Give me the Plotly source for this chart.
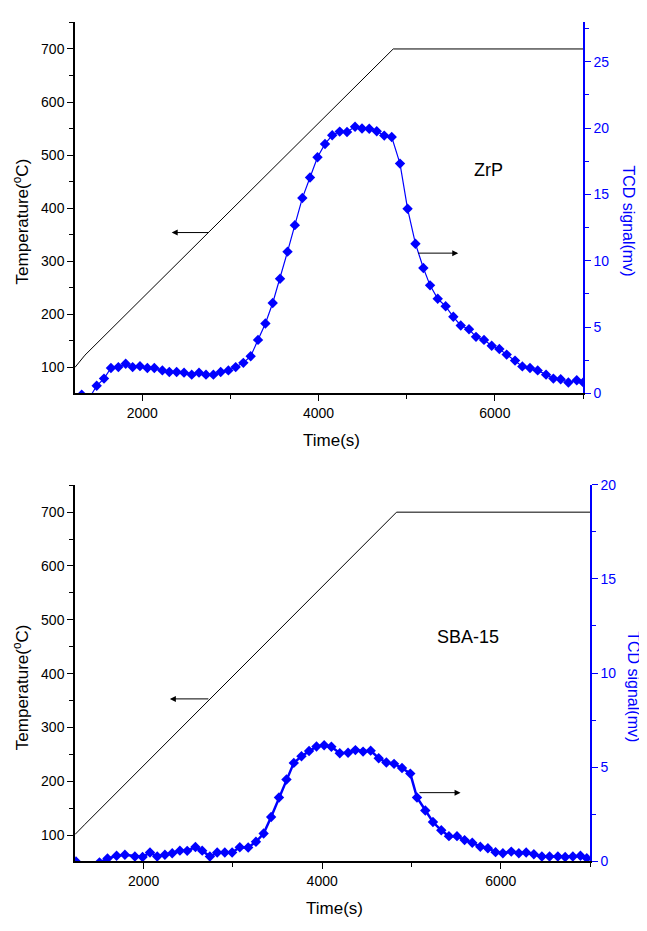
import plotly.graph_objects as go

# page body has an 8px margin: the figure is drawn at offset (8, 8)
OFF = 8
W, H = 647 - OFF, 931 - OFF

# ---------------- data: ZrP panel ----------------
zrp_temp_time = [1237, 1280, 1350, 4847, 7000]
zrp_temp = [100, 108, 123, 700, 700]

zrp_time = [1313, 1396, 1483, 1566, 1645, 1729, 1812, 1891, 1974, 2058, 2137, 2228,
            2307, 2390, 2474, 2561, 2644, 2723, 2807, 2890, 2977, 3060, 3147, 3230,
            3313, 3397, 3480, 3563, 3648, 3731, 3816, 3903, 3988, 4073, 4155, 4240,
            4323, 4414, 4493, 4575, 4660, 4745, 4830, 4924, 5010, 5099, 5189, 5265,
            5352, 5442, 5529, 5613, 5707, 5786, 5877, 5964, 6051, 6134, 6229, 6312,
            6399, 6486, 6581, 6664, 6747, 6834, 6929, 7004]
zrp_tcd = [-0.1, -0.4, 0.57, 1.11, 1.91, 1.98, 2.23, 1.98, 2.05, 1.91, 1.91, 1.73,
           1.61, 1.61, 1.56, 1.41, 1.56, 1.41, 1.41, 1.61, 1.73, 1.98, 2.30, 2.80,
           4.03, 5.27, 6.81, 8.64, 10.68, 12.68, 14.72, 16.27, 17.80, 18.80, 19.45, 19.73,
           19.70, 20.10, 19.97, 19.95, 19.76, 19.43, 19.32, 17.32, 13.91, 11.28, 9.45, 8.14,
           7.13, 6.56, 5.77, 5.12, 4.83, 4.26, 4.03, 3.59, 3.34, 2.92, 2.47, 2.03,
           1.91, 1.73, 1.41, 1.11, 1.06, 0.82, 0.99, 0.82]

# ---------------- data: SBA-15 panel ----------------
sba_temp_time = [1231, 1280, 1343, 4833, 7000]
sba_temp = [101, 110, 120, 700, 700]

sba_time = [1242, 1330, 1418, 1505, 1595, 1697, 1790, 1902, 1988, 2071, 2152, 2238,
            2320, 2406, 2488, 2580, 2656, 2742, 2824, 2909, 2991, 3077, 3171, 3258,
            3344, 3428, 3516, 3600, 3682, 3768, 3853, 3936, 4022, 4103, 4197, 4290,
            4372, 4458, 4543, 4633, 4719, 4805, 4894, 4987, 5062, 5155, 5241, 5334,
            5420, 5510, 5595, 5681, 5771, 5856, 5942, 6024, 6118, 6203, 6285, 6371,
            6461, 6547, 6640, 6722, 6808, 6893, 6964]
sba_tcd = [0.0, -0.4, -0.3, -0.05, 0.15, 0.30, 0.35, 0.26, 0.23, 0.47, 0.26, 0.35,
           0.43, 0.57, 0.56, 0.76, 0.57, 0.26, 0.47, 0.47, 0.47, 0.75, 0.74, 1.04,
           1.48, 2.36, 3.39, 4.35, 5.23, 5.58, 5.86, 6.10, 6.17, 6.09, 5.74, 5.77,
           5.91, 5.83, 5.88, 5.48, 5.25, 5.18, 4.96, 4.66, 3.39, 2.70, 2.09, 1.65,
           1.34, 1.34, 1.13, 0.99, 0.78, 0.70, 0.49, 0.43, 0.52, 0.43, 0.47, 0.38,
           0.26, 0.26, 0.26, 0.23, 0.26, 0.30, 0.17]

x_ticks = [2000, 4000, 6000]
temp_ticks = [100, 200, 300, 400, 500, 600, 700]
zrp_tcd_ticks = [0, 5, 10, 15, 20, 25]
sba_tcd_ticks = [0, 5, 10, 15, 20]

BLUE = "#0000FF"
FONT = "Arial, Liberation Sans, sans-serif"


def fx(p):
    return (p - OFF) / W


def fy(p):
    return 1 - (p - OFF) / H


fig = go.Figure()

# temperature lines
fig.add_trace(go.Scatter(x=zrp_temp_time, y=zrp_temp, mode="lines",
                         line=dict(color="black", width=1), xaxis="x", yaxis="y",
                         showlegend=False))
fig.add_trace(go.Scatter(x=sba_temp_time, y=sba_temp, mode="lines",
                         line=dict(color="black", width=1), xaxis="x2", yaxis="y2",
                         showlegend=False))
# TCD signals
fig.add_trace(go.Scatter(x=zrp_time, y=zrp_tcd, mode="lines+markers",
                         line=dict(color=BLUE, width=1.2),
                         marker=dict(symbol="diamond", size=8, color=BLUE),
                         xaxis="x", yaxis="y3", showlegend=False))
fig.add_trace(go.Scatter(x=sba_time, y=sba_tcd, mode="lines+markers",
                         line=dict(color=BLUE, width=2.5),
                         marker=dict(symbol="diamond", size=8, color=BLUE),
                         xaxis="x2", yaxis="y4", showlegend=False))

tick_font = dict(family=FONT, size=14, color="black")
blue_tick_font = dict(family=FONT, size=14, color=BLUE)

top_x = [fx(75), fx(583)]
top_y = [fy(392), fy(14)]
bot_x = [fx(75), fx(590)]
bot_y = [fy(868.3), fy(485)]

common_x = dict(showline=True, linecolor="black", linewidth=1.5, ticks="outside",
                ticklen=6, tickwidth=1.2, tickcolor="black", tickvals=x_ticks,
                tickfont=tick_font, showgrid=False, zeroline=False,
                minor=dict(ticks="outside", ticklen=4, tickwidth=1.2,
                           tickvals=[1000, 3000, 5000, 7000], tickcolor="black"))
top_mirror = dict(showline=True, linecolor="black", linewidth=1.5, ticks="inside",
                  ticklen=6, tickwidth=1.2, tickcolor="black", tickvals=x_ticks,
                  showticklabels=False, showgrid=False, zeroline=False, side="top",
                  minor=dict(ticks="inside", ticklen=4, tickwidth=1.2,
                             tickvals=[1000, 3000, 5000, 7000], tickcolor="black"))
common_temp = dict(showline=True, linecolor="black", linewidth=1.5, ticks="outside",
                   ticklen=6, tickwidth=1.2, tickcolor="black", tickvals=temp_ticks,
                   tickfont=tick_font, showgrid=False, zeroline=False,
                   minor=dict(ticks="outside", ticklen=4, tickwidth=1.2,
                              tickvals=[150, 250, 350, 450, 550, 650, 750],
                              tickcolor="black"))
common_tcd = dict(showline=True, linecolor=BLUE, linewidth=1.5, ticks="outside",
                  ticklen=6, tickwidth=1.2, tickcolor=BLUE, tickfont=blue_tick_font,
                  showgrid=False, zeroline=False, side="right")

fig.update_layout(
    width=W, height=H,
    margin=dict(l=0, r=0, t=0, b=0),
    paper_bgcolor="white", plot_bgcolor="white",
    xaxis=dict(domain=top_x, anchor="y", range=[1237, 7000], **common_x),
    xaxis3=dict(domain=top_x, anchor="y", overlaying="x", range=[1237, 7000], **top_mirror),
    yaxis=dict(domain=top_y, anchor="x", range=[51, 751], **common_temp),
    yaxis3=dict(domain=top_y, anchor="x", overlaying="y", range=[0, 28],
                tickvals=zrp_tcd_ticks,
                minor=dict(ticks="outside", ticklen=4, tickwidth=1.2, tickcolor=BLUE,
                           tickvals=[2.5, 7.5, 12.5, 17.5, 22.5, 27.5]),
                **common_tcd),
    xaxis2=dict(domain=bot_x, anchor="y2", range=[1231, 7000], **common_x),
    xaxis4=dict(domain=bot_x, anchor="y2", overlaying="x2", range=[1231, 7000], **top_mirror),
    yaxis2=dict(domain=bot_y, anchor="x2", range=[51, 751], **common_temp),
    yaxis4=dict(domain=bot_y, anchor="x2", overlaying="y2", range=[0, 20],
                tickvals=sba_tcd_ticks,
                minor=dict(ticks="outside", ticklen=4, tickwidth=1.2, tickcolor=BLUE,
                           tickvals=[2.5, 7.5, 12.5, 17.5]),
                **common_tcd),
)

ann = []
title_font = dict(family=FONT, size=17, color="black")
blue_title_font = dict(family=FONT, size=16, color=BLUE)


def label(text, x, y, font, angle=0):
    ann.append(dict(text=text, x=fx(x), y=fy(y), xref="paper", yref="paper",
                    showarrow=False, textangle=angle, font=font,
                    xanchor="center", yanchor="middle"))


label("Temperature(<sup>o</sup>C)", 21, 217, title_font, -90)
label("Temperature(<sup>o</sup>C)", 21, 691, title_font, -90)
label("TCD signal(mv)", 629, 216, blue_title_font, 90)
label("TCD signal(mv)", 634, 690, blue_title_font, 90)
label("Time(s)", 331, 440, title_font)
label("Time(s)", 334, 916, title_font)
label("ZrP", 488, 165, dict(family=FONT, size=18, color="black"))
label("SBA-15", 468, 640, dict(family=FONT, size=18, color="black"))


def arrow(xref, yref, x_head, x_tail, y):
    ann.append(dict(text="", x=x_head, y=y, ax=x_tail, ay=y, xref=xref, yref=yref,
                    axref=xref, ayref=yref, showarrow=True, arrowhead=2,
                    arrowsize=1.2, arrowwidth=1, arrowcolor="black"))


arrow("x", "y", 2334, 2768, 354)
arrow("x", "y3", 5585, 5113, 10.57)
arrow("x2", "y2", 2294, 2742, 353)
arrow("x2", "y4", 5550, 5073, 3.65)

fig.update_layout(annotations=ann)

fig.write_html("out.html")
